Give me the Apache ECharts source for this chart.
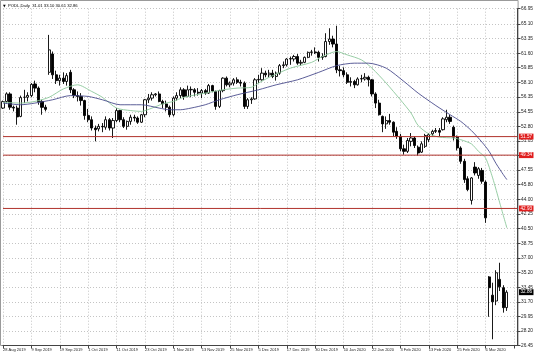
<!DOCTYPE html>
<html><head><meta charset="utf-8">
<script src="https://cdn.jsdelivr.net/npm/echarts@6/dist/echarts.min.js"></script>
<style>html,body{margin:0;padding:0;background:#fff}#c{width:536px;height:357px}</style>
</head><body><div id="c"></div>
<script>
const categories = ['2019.08.28','2019.08.29','2019.08.30','2019.09.02','2019.09.03','2019.09.04','2019.09.05','2019.09.06','2019.09.09','2019.09.10','2019.09.11','2019.09.12','2019.09.13','2019.09.16','2019.09.17','2019.09.18','2019.09.19','2019.09.20','2019.09.23','2019.09.24','2019.09.25','2019.09.26','2019.09.27','2019.09.30','2019.10.01','2019.10.02','2019.10.03','2019.10.04','2019.10.07','2019.10.08','2019.10.09','2019.10.10','2019.10.11','2019.10.14','2019.10.15','2019.10.16','2019.10.17','2019.10.18','2019.10.21','2019.10.22','2019.10.23','2019.10.24','2019.10.25','2019.10.27','2019.10.28','2019.10.29','2019.10.30','2019.10.31','2019.11.01','2019.11.04','2019.11.05','2019.11.06','2019.11.07','2019.11.08','2019.11.11','2019.11.12','2019.11.13','2019.11.14','2019.11.15','2019.11.18','2019.11.19','2019.11.20','2019.11.21','2019.11.22','2019.11.25','2019.11.26','2019.11.27','2019.11.28','2019.11.29','2019.12.02','2019.12.03','2019.12.04','2019.12.05','2019.12.06','2019.12.09','2019.12.10','2019.12.11','2019.12.12','2019.12.13','2019.12.16','2019.12.17','2019.12.18','2019.12.19','2019.12.20','2019.12.23','2019.12.24','2019.12.26','2019.12.27','2019.12.30','2019.12.31','2020.01.02','2020.01.03','2020.01.06','2020.01.07','2020.01.08','2020.01.09','2020.01.10','2020.01.13','2020.01.14','2020.01.15','2020.01.16','2020.01.17','2020.01.20','2020.01.21','2020.01.22','2020.01.23','2020.01.24','2020.01.27','2020.01.28','2020.01.29','2020.01.30','2020.01.31','2020.02.03','2020.02.04','2020.02.05','2020.02.06','2020.02.07','2020.02.10','2020.02.11','2020.02.12','2020.02.13','2020.02.14','2020.02.17','2020.02.18','2020.02.19','2020.02.20','2020.02.21','2020.02.24','2020.02.25','2020.02.26','2020.02.27','2020.02.28','2020.03.02','2020.03.03','2020.03.04','2020.03.05','2020.03.06','2020.03.08','2020.03.09','2020.03.10','2020.03.11','2020.03.12','2020.03.13','','',''];

const opens  = [55.0,55.8,56.7,55.1,55.0,54.0,56.3,56.3,56.5,57.9,57.4,55.8,55.1,59.3,61.5,59.0,58.3,58.6,58.2,59.3,57.2,56.5,56.4,55.9,54.1,53.6,52.6,52.5,52.8,52.7,53.6,52.6,53.5,54.7,53.6,52.8,53.4,53.9,53.8,53.3,54.2,56.0,56.2,56.6,56.7,55.8,55.5,55.1,54.2,56.2,56.5,57.2,56.4,57.2,57.2,56.9,56.8,57.1,56.8,57.7,57.0,55.2,57.1,58.6,57.8,58.0,58.4,58.1,58.0,55.2,56.0,56.1,58.4,58.4,59.2,59.0,59.2,58.8,59.2,60.1,60.2,60.9,60.9,61.2,60.4,60.5,61.1,61.7,61.75,61.7,61.1,61.2,63.0,63.3,62.7,59.6,59.5,59.0,58.1,58.2,57.8,58.5,58.5,58.7,58.4,56.7,55.6,54.0,53.1,53.5,53.3,52.2,51.6,50.1,49.8,51.0,51.4,50.3,49.7,50.4,51.2,51.9,52.2,52.3,52.4,53.6,53.9,52.7,51.5,50.2,48.6,46.5,43.9,47.9,46.9,47.5,46.1,34.7,32.5,31.8,34.4,33.4,31.01];
const highs  = [55.9,56.9,56.9,55.3,55.3,56.5,57.2,56.9,58.0,58.3,57.6,56.0,55.4,63.8,61.8,59.5,59.0,59.3,59.2,59.6,57.4,57.0,56.8,56.0,54.9,54.0,52.9,53.1,53.2,54.0,53.8,53.8,55.0,54.8,53.9,53.5,54.2,54.2,54.0,54.3,56.1,56.7,56.9,56.8,57.0,56.0,55.9,55.3,56.4,56.9,57.5,57.4,57.7,57.6,57.4,57.4,57.3,57.3,57.9,57.8,57.1,57.2,58.7,58.8,58.2,58.6,58.7,58.4,58.2,56.2,56.3,58.6,59.0,59.8,59.5,59.6,59.6,59.4,60.3,60.6,61.0,61.2,61.4,61.5,60.8,61.2,61.8,62.0,62.3,61.9,61.6,64.0,64.6,63.7,64.9,60.1,59.9,59.3,58.7,58.4,58.7,59.0,59.2,58.9,58.5,56.9,56.0,54.1,54.0,54.3,53.4,52.7,51.9,50.6,51.4,52.0,51.6,50.5,51.0,51.9,52.0,52.4,52.6,52.6,53.9,54.8,54.2,52.9,51.7,50.4,48.9,46.8,46.7,48.5,47.9,47.8,46.3,34.8,34.0,35.5,36.4,33.7,33.10];
const lows   = [54.9,55.6,54.8,54.6,53.0,53.9,55.6,55.8,56.3,56.9,55.4,54.2,54.6,59.0,58.5,57.9,57.7,57.9,57.7,56.8,56.2,55.8,55.3,53.6,53.3,52.3,51.0,52.2,52.1,52.4,52.3,51.4,53.3,53.3,52.6,52.4,53.0,53.4,53.1,53.2,53.9,55.6,55.9,56.4,55.7,55.0,54.6,53.9,54.0,55.9,56.2,56.0,56.3,56.3,56.4,56.5,56.2,56.6,56.7,56.9,54.8,55.0,56.9,57.6,57.5,57.7,57.9,57.6,54.9,54.9,55.5,56.0,58.0,58.3,58.7,58.7,58.6,58.3,59.0,59.8,60.0,60.2,60.6,60.2,60.1,60.4,61.0,61.3,61.5,60.6,60.8,61.1,62.6,62.3,59.2,58.8,58.7,57.9,57.6,57.4,57.7,58.1,58.3,57.6,56.4,55.0,54.1,52.1,52.5,53.0,51.6,51.3,49.8,49.4,49.6,50.4,50.2,49.3,49.6,50.2,50.9,51.6,52.0,51.6,52.3,53.3,53.1,51.1,49.9,48.3,46.0,45.0,43.4,46.9,46.5,45.9,41.2,29.9,27.2,31.3,33.0,30.4,30.61];
const closes = [55.78,56.71,55.1,55.0,53.94,56.26,56.3,56.52,57.85,57.4,55.75,55.09,54.85,62.0,59.0,58.3,58.6,58.2,58.9,57.2,56.5,56.4,55.9,54.1,53.6,52.6,52.4,52.8,52.75,53.6,52.6,53.5,54.7,53.6,52.8,53.4,53.9,53.8,53.3,54.2,56.0,56.2,56.6,56.7,55.8,55.5,55.1,54.2,56.2,56.5,57.2,56.4,57.2,57.25,56.9,56.8,57.1,56.8,57.7,57.05,55.2,57.1,58.6,57.8,58.0,58.4,58.1,58.0,55.2,56.0,56.1,58.4,58.45,59.2,59.0,59.2,58.8,59.2,60.1,60.2,60.9,60.95,61.2,60.4,60.5,61.1,61.7,61.75,61.65,61.1,61.2,63.0,63.3,62.7,59.6,59.5,59.0,58.1,58.2,57.8,58.5,58.55,58.7,58.4,56.7,55.6,54.2,53.1,53.5,53.3,52.1,51.6,50.1,49.8,51.1,51.4,50.5,49.6,50.7,51.7,51.8,52.2,52.3,52.1,53.7,53.9,53.4,51.5,50.2,48.6,46.4,45.2,46.6,47.2,47.7,46.2,41.8,33.4,31.7,35.2,33.5,31.0,32.86];

const fastMaIdx = [0,5,9,13,17,21,25,28,32,36,39,42,45,48,51,57,62,66,70,72,75,81,87,90,94,97,101,104,108,112,115,117,120,123,127,129,132,134,136,138,140,142];
const fastMaVal = [55.7,55.6,55.8,56.3,57.3,57.8,57.0,56.3,55.0,54.7,54.6,55.0,55.5,55.8,56.3,56.8,57.2,57.4,57.5,58.0,58.7,59.8,60.5,61.2,61.8,61.4,60.8,59.8,58.0,56.0,54.4,52.9,51.9,51.5,51.4,51.2,50.7,49.8,49.0,46.6,43.6,40.6];
const slowMaIdx = [0,5,9,14,19,24,28,33,39,44,47,50,53,57,61,66,72,77,83,89,94,99,103,108,113,117,122,126,129,132,135,137,139,141,142];
const slowMaVal = [55.6,55.4,55.6,56.0,56.5,56.4,56.0,55.4,55.4,55.0,54.8,54.8,55.0,55.4,56.0,56.6,57.2,57.8,58.4,59.3,60.1,60.4,60.4,59.8,58.2,56.8,55.3,54.2,53.4,52.3,50.9,49.8,48.3,47.0,46.4];

const levelLines = [51.57, 49.34, 42.93];
const lastPrice = 32.86;
const yTickValues = [26.45,28.20,29.95,31.70,33.45,35.20,37.00,38.75,40.50,42.25,44.00,45.80,47.55,49.30,51.05,52.80,54.55,56.35,58.10,59.85,61.60,63.35,65.10,66.95];
const xTickLabels = ['28 Aug 2019','9 Sep 2019','19 Sep 2019','1 Oct 2019','11 Oct 2019','23 Oct 2019','1 Nov 2019','13 Nov 2019','25 Nov 2019','5 Dec 2019','17 Dec 2019','30 Dec 2019','10 Jan 2020','22 Jan 2020','3 Feb 2020','13 Feb 2020','25 Feb 2020','6 Mar 2020'];
const titleText = 'PODL,Daily  31.01 33.10 30.61 32.86';

const candleData = opens.map((o, i) => [o, closes[i], lows[i], highs[i]]);
const fastData = fastMaIdx.map((k, j) => [k, fastMaVal[j]]);
const slowData = slowMaIdx.map((k, j) => [k, slowMaVal[j]]);
const lastIdx = categories.length - 1;

const FONT = 'Liberation Sans';
const RED_LINE = '#b0322c';
const tagLabel = (bg, txt) => ({
  show: true, distance: 1.5, color: '#ffffff', backgroundColor: bg,
  padding: [0.6, 1.5, 0.3, 1.5], fontSize: 4.6, fontFamily: FONT, formatter: txt
});
const levelSeries = levelLines.map(v => ({
  type: 'line', data: [[0, v], [lastIdx, v]], showSymbol: false, silent: true, z: 4,
  lineStyle: {color: RED_LINE, width: 1, type: 'solid'},
  endLabel: tagLabel('#e01e1e', v.toFixed(2))
}));
const lastSeries = {
  type: 'line', data: [[0, lastPrice], [lastIdx, lastPrice]], showSymbol: false, silent: true, z: 4,
  lineStyle: {color: '#000', width: 1, opacity: 0},
  endLabel: tagLabel('#000000', lastPrice.toFixed(2))
};

const chart = echarts.init(document.getElementById('c'), null, {renderer: 'canvas'});
chart.setOption({
  animation: false,
  backgroundColor: '#ffffff',
  grid: {left: 0.5, right: 17.9, top: 8.7, bottom: 11.5, containLabel: false},
  xAxis: {
    type: 'category', data: categories, boundaryGap: false,
    axisLine: {show: true, lineStyle: {color: '#444', width: 1}},
    axisTick: {show: true, interval: 7, length: 3, lineStyle: {color: '#444'}},
    axisLabel: {
      show: true, interval: 7, align: 'left', margin: 2.5, fontSize: 4, fontFamily: FONT, color: '#222',
      formatter: (v, idx) => (idx % 8 === 0 && xTickLabels[idx / 8]) ? xTickLabels[idx / 8] : ''
    },
    splitLine: {show: true, interval: 7, lineStyle: {color: '#c4c4c4', type: [1, 2], width: 1}}
  },
  yAxis: {
    type: 'value', position: 'right', min: 26.45, max: 66.95,
    axisLine: {show: true, lineStyle: {color: '#444', width: 1}},
    axisTick: {show: true, length: 3, customValues: yTickValues, lineStyle: {color: '#444'}},
    axisLabel: {show: true, customValues: yTickValues, margin: 3.5, fontSize: 4.8, fontFamily: FONT, color: '#222',
      formatter: v => Number(v).toFixed(2)},
    splitLine: {show: true, lineStyle: {color: '#c4c4c4', type: [1, 2], width: 1}}
  },
  series: [
    {
      type: 'candlestick', data: candleData, barWidth: 2.7, z: 2,
      itemStyle: {color: '#ffffff', color0: '#000000', borderColor: '#000000', borderColor0: '#000000', borderWidth: 0.9}
    },
    {type: 'line', data: fastData, showSymbol: false, smooth: 0.25, lineStyle: {color: '#8cc79b', width: 0.9}, z: 3},
    {type: 'line', data: slowData, showSymbol: false, smooth: 0.25, lineStyle: {color: '#4a4c8c', width: 0.9}, z: 3}
  ].concat(levelSeries, [lastSeries]),
  graphic: [
    {type: 'rect', shape: {x: 0.5, y: 0.5, width: 517.6, height: 345}, style: {fill: 'none', stroke: '#9a9a9a', lineWidth: 1}, silent: true, z: -1},
    {type: 'text', left: 3, top: 4.5, style: {text: '\u25BC', fontSize: 3.5, fill: '#000', fontFamily: 'DejaVu Sans'}},
    {type: 'text', left: 8, top: 4, style: {text: titleText, fontSize: 4.2, fill: '#000', fontFamily: FONT}}
  ]
});
</script>
</body></html>
